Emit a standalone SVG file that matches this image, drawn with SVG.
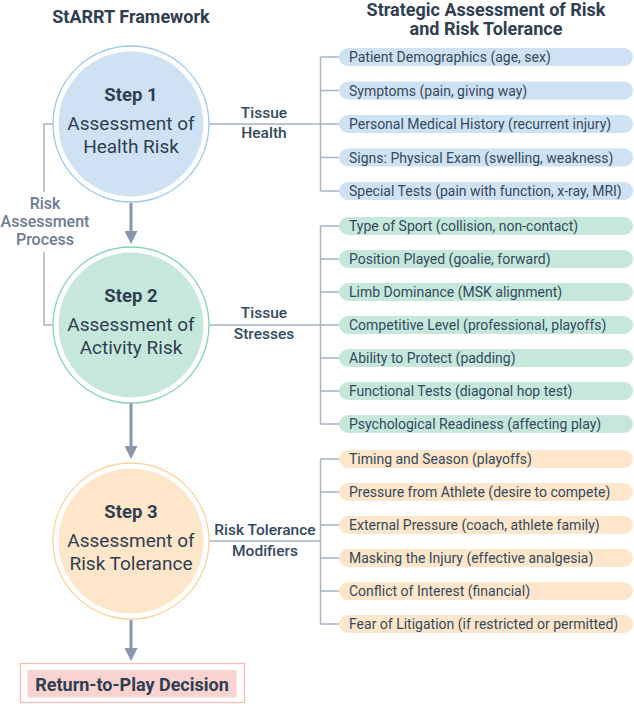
<svg xmlns="http://www.w3.org/2000/svg" width="634" height="704" viewBox="0 0 634 704">
<style>
text{font-family:Roboto,"Liberation Sans",sans-serif;fill:#2f3e51}
.title{font-size:18px;font-weight:700}
.step{font-size:18.5px;font-weight:700;text-anchor:middle}
.desc{font-size:19px;font-weight:400;text-anchor:middle}
.lab{font-size:15.5px;font-weight:500;text-anchor:middle;fill:#34495e}
.side{font-size:16px;font-weight:500;text-anchor:middle;fill:#6b7b92}
.pt{font-size:14px;font-weight:400;fill:#34495e}
.ln{fill:none;stroke:#a8b3c5;stroke-width:1.5}
.arr{fill:none;stroke:#8795ae;stroke-width:3}
.pb{fill:#cfe2f4}
.pg{fill:#c6e8dc}
.po{fill:#fde6c9}
</style>
<defs>
<marker id="ah" markerUnits="userSpaceOnUse" markerWidth="15" markerHeight="13" refX="0" refY="6.5" orient="auto">
<path d="M0,0 L13,6.5 L0,13 z" fill="#8795ae"/>
</marker>
</defs>
<rect width="634" height="704" fill="#ffffff"/>
<g id="titles">
<text class="title" x="131" y="23" text-anchor="middle">StARRT Framework</text>
<text class="title" x="486" y="16" text-anchor="middle">Strategic Assessment of Risk</text>
<text class="title" x="486" y="35" text-anchor="middle">and Risk Tolerance</text>
</g>
<g id="connectors">
<path class="ln" d="M53,124 H44 V192 M44,252 V325 H53"/>
<path class="ln" d="M209,124 H320.5 M320.5,57 V191 M320.5,57 H340 M320.5,90.5 H340 M320.5,157.5 H340 M320.5,191 H340 M320.5,124 H340"/>
<path class="ln" d="M209,325 H320.5 M320.5,226 V424 M320.5,226 H340 M320.5,259 H340 M320.5,292 H340 M320.5,358 H340 M320.5,391 H340 M320.5,424 H340 M320.5,325 H340"/>
<path class="ln" d="M209,541 H320.5 M320.5,459 V624 M320.5,459 H340 M320.5,492 H340 M320.5,525 H340 M320.5,558 H340 M320.5,591 H340 M320.5,624 H340"/>
<path class="arr" d="M131,203 V231" marker-end="url(#ah)"/>
<path class="arr" d="M131,403 V446" marker-end="url(#ah)"/>
<path class="arr" d="M131,620 V648" marker-end="url(#ah)"/>
<text class="side" x="45" y="209">Risk</text>
<text class="side" x="45" y="227">Assessment</text>
<text class="side" x="45" y="245">Process</text>
<text class="lab" x="264" y="118">Tissue</text>
<text class="lab" x="264" y="138">Health</text>
<text class="lab" x="264" y="318">Tissue</text>
<text class="lab" x="264" y="339">Stresses</text>
<text class="lab" x="265" y="535">Risk Tolerance</text>
<text class="lab" x="265" y="556">Modifiers</text>
</g>
<g id="step1">
<circle cx="131" cy="124" r="78" fill="#ffffff" stroke="#9ec8ec" stroke-width="1.3"/>
<circle cx="131" cy="124" r="72.5" fill="#cfe2f4"/>
<text class="step" x="131" y="101">Step 1</text>
<text class="desc" x="131" y="130">Assessment of</text>
<text class="desc" x="131" y="153">Health Risk</text>
</g>
<g id="step2">
<circle cx="131" cy="325" r="78" fill="#ffffff" stroke="#86d2b6" stroke-width="1.3"/>
<circle cx="131" cy="325" r="72.5" fill="#c6e8dc"/>
<text class="step" x="131" y="302">Step 2</text>
<text class="desc" x="131" y="331">Assessment of</text>
<text class="desc" x="131" y="354">Activity Risk</text>
</g>
<g id="step3">
<circle cx="131" cy="541" r="78" fill="#ffffff" stroke="#f9d29c" stroke-width="1.3"/>
<circle cx="131" cy="541" r="72.5" fill="#fde6c9"/>
<text class="step" x="131" y="518">Step 3</text>
<text class="desc" x="131" y="547">Assessment of</text>
<text class="desc" x="131" y="570">Risk Tolerance</text>
</g>
<g id="decision">
<rect x="20.5" y="663.5" width="224" height="39" fill="#ffffff" stroke="#f6bdb6" stroke-width="1.3"/>
<rect x="27.5" y="670" width="209" height="27.5" fill="#f9d3d0"/>
<text x="132" y="690.5" text-anchor="middle" style="font-size:18px;font-weight:700">Return-to-Play Decision</text>
</g>
<g id="health-items">
<rect class="pb" x="339" y="48" width="294" height="18" rx="9"/>
<text class="pt" x="349" y="62">Patient Demographics (age, sex)</text>
<rect class="pb" x="339" y="81.5" width="294" height="18" rx="9"/>
<text class="pt" x="349" y="95.5">Symptoms (pain, giving way)</text>
<rect class="pb" x="339" y="115" width="294" height="18" rx="9"/>
<text class="pt" x="349" y="129">Personal Medical History (recurrent injury)</text>
<rect class="pb" x="339" y="148.5" width="294" height="18" rx="9"/>
<text class="pt" x="349" y="162.5">Signs: Physical Exam (swelling, weakness)</text>
<rect class="pb" x="339" y="182" width="294" height="18" rx="9"/>
<text class="pt" x="349" y="196">Special Tests (pain with function, x-ray, MRI)</text>
</g>
<g id="activity-items">
<rect class="pg" x="339" y="217" width="294" height="18" rx="9"/>
<text class="pt" x="349" y="231">Type of Sport (collision, non-contact)</text>
<rect class="pg" x="339" y="250" width="294" height="18" rx="9"/>
<text class="pt" x="349" y="264">Position Played (goalie, forward)</text>
<rect class="pg" x="339" y="283" width="294" height="18" rx="9"/>
<text class="pt" x="349" y="297">Limb Dominance (MSK alignment)</text>
<rect class="pg" x="339" y="316" width="294" height="18" rx="9"/>
<text class="pt" x="349" y="330">Competitive Level (professional, playoffs)</text>
<rect class="pg" x="339" y="349" width="294" height="18" rx="9"/>
<text class="pt" x="349" y="363">Ability to Protect (padding)</text>
<rect class="pg" x="339" y="382" width="294" height="18" rx="9"/>
<text class="pt" x="349" y="396">Functional Tests (diagonal hop test)</text>
<rect class="pg" x="339" y="415" width="294" height="18" rx="9"/>
<text class="pt" x="349" y="429">Psychological Readiness (affecting play)</text>
</g>
<g id="tolerance-items">
<rect class="po" x="339" y="450" width="294" height="18" rx="9"/>
<text class="pt" x="349" y="464">Timing and Season (playoffs)</text>
<rect class="po" x="339" y="483" width="294" height="18" rx="9"/>
<text class="pt" x="349" y="497">Pressure from Athlete (desire to compete)</text>
<rect class="po" x="339" y="516" width="294" height="18" rx="9"/>
<text class="pt" x="349" y="530">External Pressure (coach, athlete family)</text>
<rect class="po" x="339" y="549" width="294" height="18" rx="9"/>
<text class="pt" x="349" y="563">Masking the Injury (effective analgesia)</text>
<rect class="po" x="339" y="582" width="294" height="18" rx="9"/>
<text class="pt" x="349" y="596">Conflict of Interest (financial)</text>
<rect class="po" x="339" y="615" width="294" height="18" rx="9"/>
<text class="pt" x="349" y="629">Fear of Litigation (if restricted or permitted)</text>
</g>
</svg>
